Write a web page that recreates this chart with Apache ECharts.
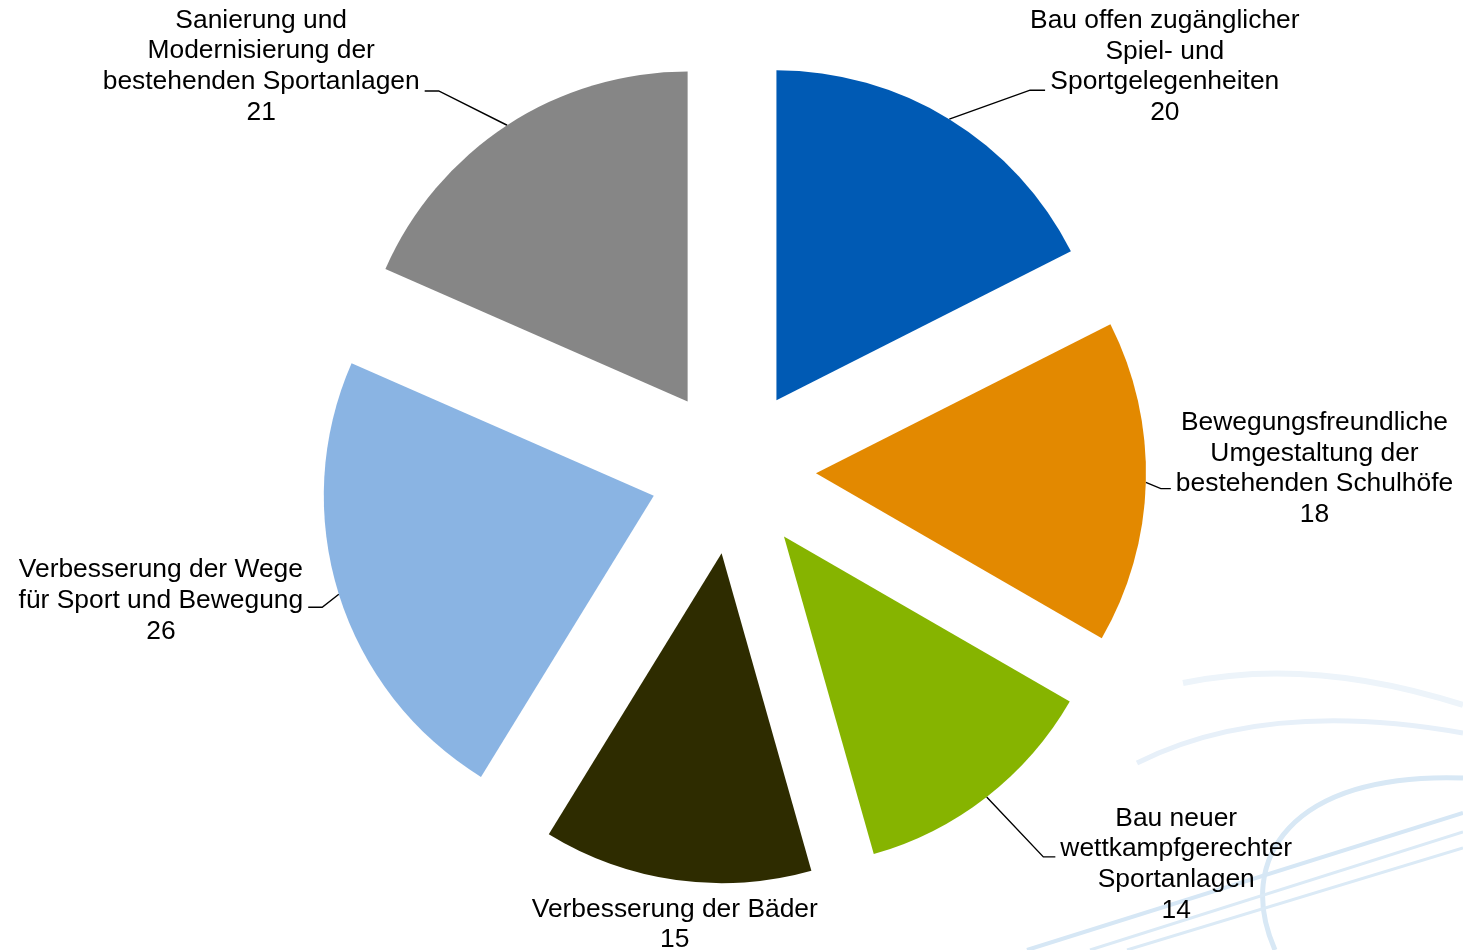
<!DOCTYPE html>
<html><head><meta charset="utf-8">
<script src="https://cdn.jsdelivr.net/npm/echarts@6/dist/echarts.min.js"></script>
<style>html,body{margin:0;padding:0;background:#fff}#c{width:1463px;height:950px}</style>
</head><body><div id="c"></div>
<script>
const categories = [
  'Bau offen zugänglicher\nSpiel- und\nSportgelegenheiten',
  'Bewegungsfreundliche\nUmgestaltung der\nbestehenden Schulhöfe',
  'Bau neuer\nwettkampfgerechter\nSportanlagen',
  'Verbesserung der Bäder',
  'Verbesserung der Wege\nfür Sport und Bewegung',
  'Sanierung und\nModernisierung der\nbestehenden Sportanlagen'
];
const values = [20, 18, 14, 15, 26, 21];
const colors = ['#005AB4', '#E38900', '#86B400', '#2E2C00', '#8AB4E3', '#868686'];

// label-line layout per slice
const lineLen      = [34, 10, 76, 0, 30, 41];
const lineLen2     = [58, 15, 22, 0, 2, 60];
const lineEndInset = [20, 0, 0, 0, 0, 0];
const lineEndDy    = [0, 6, 0, 0, 4, 0];
const lineTail     = [15, 10, 12, 0, 14, 14];
const labelPad     = [[0,0,47,0], [0,0,28,0], [15,0,0,0], [14,0,0,7], [0,0,5,0], [0,0,49,0]];

const FONT = '"Liberation Sans", Arial, sans-serif';

const chart = echarts.init(document.getElementById('c'), null, {renderer: 'canvas'});
chart.setOption({
  animation: false,
  backgroundColor: '#ffffff',
  graphic: [
    {type: 'bezierCurve', z: 0, silent: true, shape: {x1: 1183, y1: 683, cpx1: 1311, cpy1: 656, x2: 1463, y2: 705}, style: {stroke: '#edf4fa', lineWidth: 6, fill: null}},
    {type: 'bezierCurve', z: 0, silent: true, shape: {x1: 1137, y1: 763, cpx1: 1266, cpy1: 698, x2: 1463, y2: 733}, style: {stroke: '#e7f0f9', lineWidth: 5, fill: null}},
    {type: 'bezierCurve', z: 0, silent: true, shape: {x1: 1463, y1: 778, cpx1: 1290, cpy1: 772, cpx2: 1235, cpy2: 860, x2: 1275, y2: 950}, style: {stroke: '#d8e8f5', lineWidth: 5, fill: null}},
    {type: 'line', z: 0, silent: true, shape: {x1: 1027, y1: 950, x2: 1463, y2: 813}, style: {stroke: '#d6e7f5', lineWidth: 4}},
    {type: 'line', z: 0, silent: true, shape: {x1: 1090, y1: 950, x2: 1463, y2: 832}, style: {stroke: '#dbeaf6', lineWidth: 3}},
    {type: 'line', z: 0, silent: true, shape: {x1: 1127, y1: 950, x2: 1463, y2: 848}, style: {stroke: '#dbeaf6', lineWidth: 3}}
  ],
  series: [{
    type: 'pie',
    center: [733, 471],
    radius: 330,
    startAngle: 90,
    clockwise: true,
    selectedMode: 'multiple',
    selectedOffset: 83,
    avoidLabelOverlap: false,
    emphasis: {disabled: true},
    label: {
      show: true,
      position: 'outside',
      distanceToLabelLine: 5,
      formatter: function (p) {
        return p.name.split('\n').concat([String(p.value)]).map(function (s) { return '{c|' + s + '}'; }).join('\n');
      },
      rich: {
        c: {align: 'center', fontSize: 26.4, lineHeight: 30.7, color: '#000000', fontFamily: FONT}
      }
    },
    labelLine: {show: true, lineStyle: {color: '#000000', width: 1.4}},
    labelLayout: function (p) {
      const i = p.dataIndex;
      if (i === 3) {
        return {align: 'center', verticalAlign: 'top'};
      }
      const pts = p.labelLinePoints;
      if (!pts || pts.length < 3) return null;
      const s = pts[2][0] >= pts[0][0] ? 1 : -1;
      const end = [pts[2][0] + s * lineEndInset[i], pts[2][1] + lineEndDy[i]];
      return {labelLinePoints: [pts[0], [end[0] - s * lineTail[i], end[1]], end]};
    },
    data: categories.map(function (n, i) {
      return {
        name: n,
        value: values[i],
        selected: true,
        itemStyle: {color: colors[i]},
        label: {padding: labelPad[i]},
        labelLine: {show: i !== 3, length: lineLen[i], length2: lineLen2[i]}
      };
    })
  }]
});
</script>
</body></html>
